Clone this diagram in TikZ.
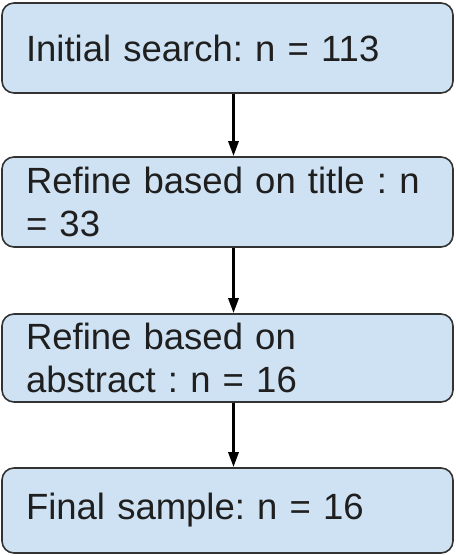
\documentclass[tikz,border=0pt]{standalone}
\usepackage{fontspec}
\setmainfont{Liberation Sans}
\usetikzlibrary{positioning,arrows.meta}
\definecolor{boxblue}{HTML}{CFE2F3}
\frenchspacing

\begin{document}
\begin{tikzpicture}[x=1pt,y=-1pt,
    stagebox/.style={draw=black!80, line width=1.6pt, fill=boxblue, rounded corners=12pt,
      text width=403pt, inner xsep=24pt, inner ysep=0pt, align=left, text=black!88,
      font=\fontsize{36.5}{43}\selectfont},
    flowarrow/.style={-{Triangle[width=10pt,length=15pt]}, line width=3pt}]
    \useasboundingbox (0,0) rectangle (455,556);

    % Stages of the selection, top to bottom
    \node[stagebox, minimum height=90pt] (search) at (227.5,48) {Initial search: n = 113};
    \node[stagebox, minimum height=90pt] (title) at (227.5,202) {Refine based on title : n\\= 33};
    \node[stagebox, minimum height=88pt] (abstract) at (227.5,358) {Refine based on\\abstract : n = 16};
    \node[stagebox, minimum height=85pt] (final) at (227.5,510.5) {Final sample: n = 16};

    % Arrows between stages
    \draw[flowarrow] ([xshift=6pt]search.south) -- ([xshift=6pt]title.north);
    \draw[flowarrow] ([xshift=6pt]title.south) -- ([xshift=6pt]abstract.north);
    \draw[flowarrow] ([xshift=6pt]abstract.south) -- ([xshift=6pt]final.north);
\end{tikzpicture}
\end{document}
